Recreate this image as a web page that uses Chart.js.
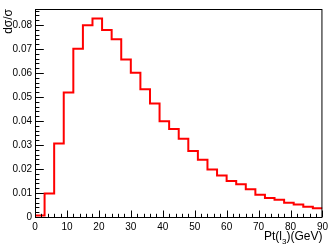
<!DOCTYPE html>
<html><head><meta charset="utf-8">
<script src="https://cdn.jsdelivr.net/npm/chart.js@4"></script>
<style>html,body{margin:0;padding:0;background:#fff}</style>
</head><body>
<canvas id="c" width="332" height="247" style="display:block"></canvas>
<script>
// Histogram bin edges (GeV) and normalized contents
const binEdges = [0,3,6,9,12,15,18,21,24,27,30,33,36,39,42,45,48,51,54,57,60,63,66,69,72,75,78,81,84,87,90];
const values = [0.0006,0.0098,0.0306,0.0519,0.0701,0.0799,0.0827,0.0779,0.0741,0.0657,
                0.0601,0.0533,0.0473,0.0399,0.0367,0.0326,0.0275,0.0239,0.0198,0.0173,
                0.0150,0.0136,0.0116,0.0093,0.0079,0.0072,0.0059,0.0052,0.0043,0.0036];
const xTickLabels = [0,10,20,30,40,50,60,70,80,90];
const yTickLabels = [0,0.01,0.02,0.03,0.04,0.05,0.06,0.07,0.08];
const xTitleMain = 'Pt(l', xTitleSub = '3', xTitleEnd = ')(GeV)';
const yTitle = 'dσ/σ';
const X_MAX = 90, Y_MAX = 0.0867;

const pts = values.map((v, i) => ({x: binEdges[i], y: v}));
pts.push({x: binEdges[binEdges.length - 1], y: values[values.length - 1]});

const FONT = 'Liberation Sans, Arial, Helvetica, sans-serif';

const rootStyle = {
  id: 'rootStyle',
  afterDraw(chart) {
    const {ctx, chartArea: a, scales: {x, y}} = chart;
    ctx.save();
    ctx.strokeStyle = '#000';
    ctx.lineWidth = 1;
    ctx.strokeRect(a.left + 0.5, a.top + 0.5, a.right - a.left - 1, a.bottom - a.top);
    ctx.beginPath();
    for (let v = 0; v <= X_MAX + 1e-9; v += 2) {
      const px = Math.round(x.getPixelForValue(v)) + 0.5;
      const len = (Math.round(v) % 10 === 0) ? 6.5 : 3.2;
      ctx.moveTo(px, a.bottom);
      ctx.lineTo(px, a.bottom - len);
    }
    for (let k = 0; k * 0.002 <= Y_MAX; k++) {
      const v = k * 0.002;
      const py = Math.round(y.getPixelForValue(v)) + 0.5;
      const len = (k % 5 === 0) ? 8.8 : 4.4;
      ctx.moveTo(a.left, py);
      ctx.lineTo(a.left + len, py);
    }
    ctx.stroke();

    ctx.fillStyle = '#000';
    // x title, right-aligned at frame right
    ctx.textBaseline = 'alphabetic';
    ctx.textAlign = 'left';
    ctx.font = '12px ' + FONT;
    const w1 = ctx.measureText(xTitleMain).width;
    const w3 = ctx.measureText(xTitleEnd).width;
    ctx.font = '8px ' + FONT;
    const w2 = ctx.measureText(xTitleSub).width;
    let sx = a.right - (w1 + w2 + w3);
    const by = 240;
    ctx.font = '12px ' + FONT;
    ctx.fillText(xTitleMain, sx, by);
    ctx.font = '8px ' + FONT;
    ctx.fillText(xTitleSub, sx + w1, by + 4);
    ctx.font = '12px ' + FONT;
    ctx.fillText(xTitleEnd, sx + w1 + w2, by);

    // y title rotated, right-aligned at top
    ctx.translate(11.5, a.top);
    ctx.rotate(-Math.PI / 2);
    ctx.textAlign = 'right';
    ctx.font = '12px ' + FONT;
    ctx.fillText(yTitle, 0, 0);
    ctx.restore();
  }
};

new Chart(document.getElementById('c'), {
  type: 'line',
  data: {
    datasets: [{
      data: pts,
      stepped: 'before',
      borderColor: '#ff0000',
      borderWidth: 2,
      pointRadius: 0,
      fill: false,
      tension: 0
    }]
  },
  options: {
    responsive: false,
    animation: false,
    devicePixelRatio: 1,
    layout: {padding: {left: 0, right: 5, top: 1, bottom: 0}},
    plugins: {legend: {display: false}, tooltip: {enabled: false}},
    scales: {
      x: {
        type: 'linear', min: 0, max: X_MAX,
        grid: {display: false, drawTicks: false}, border: {display: false},
        afterBuildTicks: s => { s.ticks = xTickLabels.map(v => ({value: v})); },
        afterFit: s => { s.height = 30; },
        ticks: {autoSkip: false, maxRotation: 0, padding: 4, color: '#000',
                font: {family: FONT, size: 10}, callback: v => String(v)}
      },
      y: {
        type: 'linear', min: 0, max: Y_MAX,
        grid: {display: false, drawTicks: false}, border: {display: false},
        afterBuildTicks: s => { s.ticks = yTickLabels.map(v => ({value: v})); },
        afterFit: s => { s.width = 35; },
        ticks: {autoSkip: false, padding: 3, color: '#000',
                font: {family: FONT, size: 10}, callback: v => String(v)}
      }
    }
  },
  plugins: [rootStyle]
});
</script>
</body></html>
